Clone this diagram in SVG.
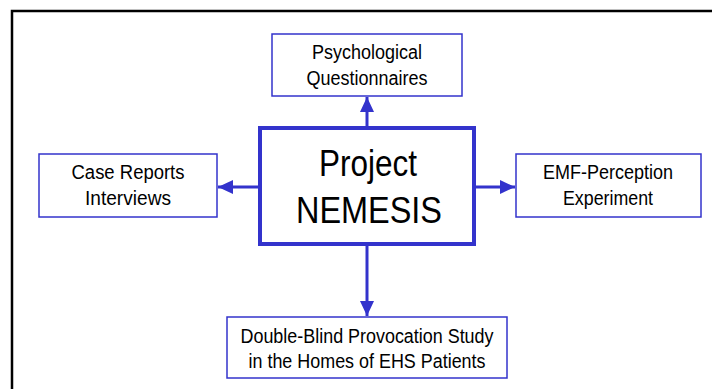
<svg xmlns="http://www.w3.org/2000/svg" width="712" height="389" viewBox="0 0 712 389">
<style>
.box{fill:#fff;stroke:#3333CC;stroke-width:1.5}
.main{fill:#fff;stroke:#3333CC;stroke-width:4}
.t{font-family:"Liberation Sans",Arial,sans-serif;font-size:19.5px;fill:#000;text-anchor:middle}
.big{font-family:"Liberation Sans",Arial,sans-serif;font-size:37px;fill:#000;text-anchor:middle}
.c{stroke:#3333CC;stroke-width:3;fill:none}
</style>
<defs>
<marker id="ah" markerUnits="userSpaceOnUse" markerWidth="15" markerHeight="14" refX="15" refY="7" orient="auto">
<path d="M0,0 L15,7 L0,14 z" fill="#3333CC"/>
</marker>
</defs>
<rect width="712" height="389" fill="#fff"/>
<path d="M12,389 V11 H712" fill="none" stroke="#000" stroke-width="2.5"/>
<g id="connectors">
<line class="c" x1="367" y1="126" x2="367" y2="97" marker-end="url(#ah)"/>
<line class="c" x1="258" y1="187" x2="218" y2="187" marker-end="url(#ah)"/>
<line class="c" x1="476" y1="187" x2="515" y2="187" marker-end="url(#ah)"/>
<line class="c" x1="367" y1="246" x2="367" y2="316" marker-end="url(#ah)"/>
</g>
<g id="project">
<rect class="main" x="260" y="128" width="214" height="116"/>
<text class="big" x="368" y="176" textLength="98" lengthAdjust="spacingAndGlyphs">Project</text>
<text class="big" x="369" y="223" textLength="146" lengthAdjust="spacingAndGlyphs">NEMESIS</text>
</g>
<g id="psych">
<rect class="box" x="272" y="34" width="190" height="62"/>
<text class="t" x="367" y="59" textLength="110" lengthAdjust="spacingAndGlyphs">Psychological</text>
<text class="t" x="367" y="85" textLength="121" lengthAdjust="spacingAndGlyphs">Questionnaires</text>
</g>
<g id="case">
<rect class="box" x="39" y="154" width="178" height="63"/>
<text class="t" x="128" y="179" textLength="113" lengthAdjust="spacingAndGlyphs">Case Reports</text>
<text class="t" x="128" y="205" textLength="86" lengthAdjust="spacingAndGlyphs">Interviews</text>
</g>
<g id="emf">
<rect class="box" x="516" y="154" width="185" height="63"/>
<text class="t" x="608" y="179" textLength="130" lengthAdjust="spacingAndGlyphs">EMF-Perception</text>
<text class="t" x="608" y="205" textLength="90" lengthAdjust="spacingAndGlyphs">Experiment</text>
</g>
<g id="study">
<rect class="box" x="227" y="317" width="280" height="61"/>
<text class="t" x="367" y="343" textLength="253" lengthAdjust="spacingAndGlyphs">Double-Blind Provocation Study</text>
<text class="t" x="367" y="368" textLength="237" lengthAdjust="spacingAndGlyphs">in the Homes of EHS Patients</text>
</g>
</svg>
